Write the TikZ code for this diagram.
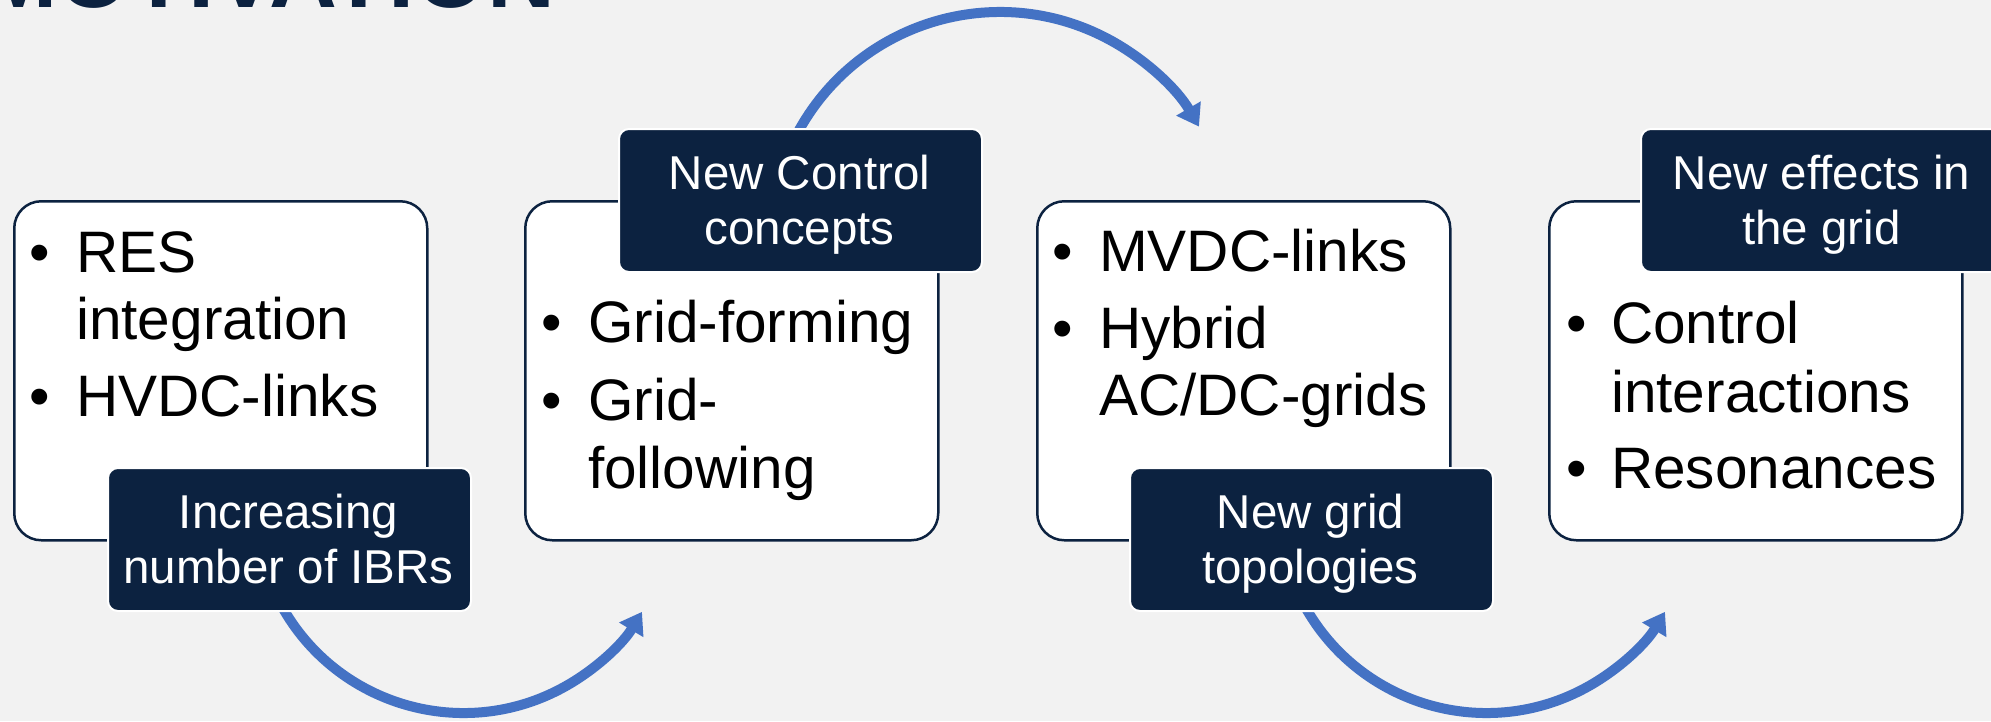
\documentclass[tikz,border=0pt]{standalone}
\usepackage{fontspec}
\setmainfont{Liberation Sans}
\usetikzlibrary{arrows.meta}
\definecolor{navy}{RGB}{12,34,64}
\definecolor{arrowblue}{RGB}{68,114,196}
\definecolor{bg}{RGB}{242,242,242}
\begin{document}
\begin{tikzpicture}[x=1pt,y=-1pt,
  wbox/.style={draw=navy,line width=2.5pt,fill=white,rounded corners=27pt,minimum width=413pt,minimum height=339pt,anchor=north west,inner sep=0pt},
  dbox/.style={draw=white,line width=2pt,fill=navy,rounded corners=10pt,minimum width=363pt,minimum height=143pt,anchor=north west,inner sep=0pt},
  btxt/.style={anchor=base west,inner sep=0pt,font=\fontsize{58.5}{68}\selectfont,text=black},
  bul/.style={anchor=base,inner sep=0pt,font=\fontsize{58.5}{68}\selectfont,text=black},
  dtxt/.style={anchor=base,inner sep=0pt,font=\fontsize{47.5}{55}\selectfont,text=white},
  arr/.style={draw=arrowblue,line width=10pt,-{Triangle[length=21pt,width=27pt]}}
]
\useasboundingbox (0,0) rectangle (1991,721);
\clip (0,0) rectangle (1991,721);
\fill[bg] (0,0) rectangle (1991,721);
\node[anchor=base west,inner sep=0pt,font=\fontsize{94}{100}\selectfont\bfseries,text=navy] (title) at (-21,7) {MOTIVATION};

% white boxes
\node[wbox] (b1) at (13,200) {};
\node[wbox] (b2) at (524,200) {};
\node[wbox] (b3) at (1036,200) {};
\node[wbox] (b4) at (1548,200) {};

% arrows
\coordinate (a1s) at ({463.5+208*cos(151)},{505+208*sin(151)});
\coordinate (a2s) at ({1000+230*cos(208)},{242+230*sin(208)});
\coordinate (a3s) at ({1486.5+208*cos(151)},{505+208*sin(151)});
\draw[arr] (a1s) arc[start angle=151,end angle=30.9,radius=208];
\draw[arr] (a2s) arc[start angle=208,end angle=329.9,radius=230];
\draw[arr] (a3s) arc[start angle=151,end angle=30.9,radius=208];

% dark boxes
\node[dbox] (d1) at (107,467) {};
\node[dbox] (d2) at (618,128) {};
\node[dbox] (d3) at (1129,467) {};
\node[dbox] (d4) at (1640,128) {};

\node[dtxt] (d1a) at (288.5,528) {Increasing};
\node[dtxt] (d1b) at (288.5,583) {number of IBRs};
\node[dtxt] (d2a) at (799.5,189) {New Control};
\node[dtxt] (d2b) at (799.5,244) {concepts};
\node[dtxt] (d3a) at (1310.5,528) {New grid};
\node[dtxt] (d3b) at (1310.5,583) {topologies};
\node[dtxt] (d4a) at (1821.5,189) {New effects in};
\node[dtxt] (d4b) at (1821.5,244) {the grid};

% box 1 text
\node[bul] (u1a) at (40,272) {•};
\node[btxt] (t1a) at (76,272) {RES};
\node[btxt] (t1b) at (76,339) {integration};
\node[bul] (u1c) at (40,416) {•};
\node[btxt] (t1c) at (76,416) {HVDC-links};

% box 2 text
\node[bul] (u2a) at (552,342) {•};
\node[btxt] (t2a) at (588,342) {Grid-forming};
\node[bul] (u2b) at (552,420) {•};
\node[btxt] (t2b) at (588,420) {Grid-};
\node[btxt] (t2c) at (588,488) {following};

% box 3 text
\node[bul] (u3a) at (1063,271) {•};
\node[btxt] (t3a) at (1099,271) {MVDC-links};
\node[bul] (u3b) at (1063,348) {•};
\node[btxt] (t3b) at (1099,348) {Hybrid};
\node[btxt] (t3c) at (1099,415) {AC/DC-grids};

% box 4 text
\node[bul] (u4a) at (1577,343) {•};
\node[btxt] (t4a) at (1611,343) {Control};
\node[btxt] (t4b) at (1611,412) {interactions};
\node[bul] (u4c) at (1577,488) {•};
\node[btxt] (t4c) at (1611,488) {Resonances};
\end{tikzpicture}
\end{document}
